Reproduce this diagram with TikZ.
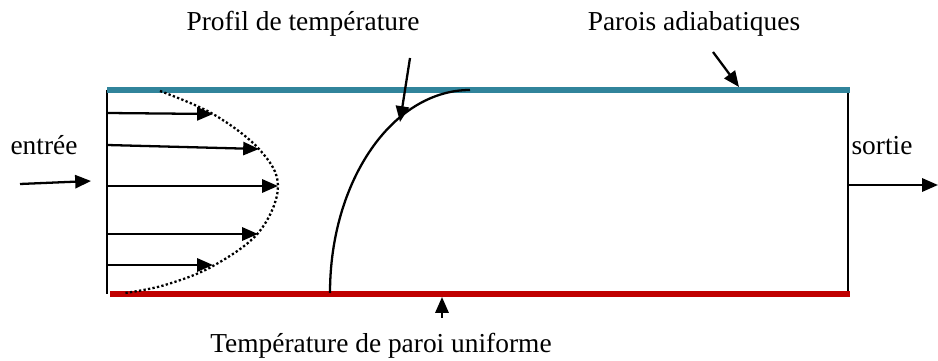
\documentclass[tikz,border=0pt]{standalone}
\usepackage{fontspec}
\setmainfont{Liberation Serif}
\usetikzlibrary{arrows.meta}
\definecolor{wallblue}{RGB}{49,132,155}
\definecolor{wallred}{RGB}{192,0,0}
\tikzset{
  lbl/.style={font=\fontsize{15.6}{17}\selectfont, inner sep=0pt, anchor=base},
  arr/.style={line width=1.3pt, -{Triangle[length=9pt,width=7.5pt]}},
  wall/.style={line width=3pt},
  edge/.style={line width=1.3pt}
}
\begin{document}
\begin{tikzpicture}[x=0.02cm,y=-0.02cm]
\useasboundingbox (0,0) rectangle (938,361);
% corners
\coordinate (tl) at (107,90);
\coordinate (bl) at (107,294);
\coordinate (tr) at (848,90);
\coordinate (br) at (848,294);
% walls
\draw[edge] (tl) -- (bl);
\draw[edge] (tr) -- (br);
\draw[wall, wallblue] (107,90) -- (850,90);
\draw[wall, wallred] (110,294) -- (850,294);
% labels
\node[lbl] (entree) at (44,155) {entrée};
\node[lbl] (sortie) at (882,155) {sortie};
\node[lbl] (profil) at (303,31) {Profil de température};
\node[lbl] (parois) at (694,31) {Parois adiabatiques};
\node[lbl] (paroi) at (381,353) {Température de paroi uniforme};
% inlet / outlet
\coordinate (inA) at (20,184);
\coordinate (inB) at (91,181);
\draw[arr] (inA) -- (inB);
\coordinate (outA) at (848,185);
\coordinate (outB) at (938,185);
\draw[arr] (outA) -- (outB);
% velocity arrows
\coordinate (v1a) at (107,113); \coordinate (v1b) at (213,114);
\coordinate (v2a) at (107,145); \coordinate (v2b) at (259,149);
\coordinate (v3a) at (107,186); \coordinate (v3b) at (278,186);
\coordinate (v4a) at (107,234); \coordinate (v4b) at (258,234);
\coordinate (v5a) at (107,265); \coordinate (v5b) at (213,265);
\foreach \i in {1,...,5} \draw[arr] (v\i a) -- (v\i b);
% dotted velocity profile
\draw[line width=1.3pt, dash pattern=on 1.3pt off 1.3pt]
  plot[smooth, tension=0.6] coordinates {(160,91) (213,114) (259,149) (278,186) (259,232) (213,266) (165,285) (125,293)};
% temperature profile
\draw[line width=1.3pt] (330,293) arc[start angle=180, end angle=90, x radius=140, y radius=-203];
% pointer arrows
\coordinate (pA) at (410,58); \coordinate (pB) at (400,122);
\draw[arr] (pA) -- (pB);
\coordinate (aA) at (713,52); \coordinate (aB) at (739,87);
\draw[arr] (aA) -- (aB);
\coordinate (uA) at (442,318); \coordinate (uB) at (442,297);
\draw[arr] (uA) -- (uB);
\end{tikzpicture}
\end{document}
